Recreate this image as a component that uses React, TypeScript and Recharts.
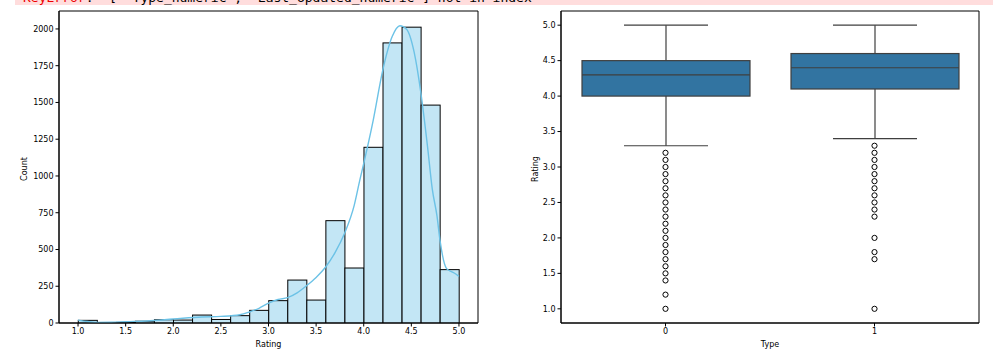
import React from 'react';
import {
  ComposedChart,
  Bar,
  Line,
  Scatter,
  XAxis,
  YAxis,
  ReferenceArea,
} from 'recharts';

// histogram: 20 bins of width 0.2 between 1.0 and 5.0
const binCenters = [1.1, 1.3, 1.5, 1.7, 1.9, 2.1, 2.3, 2.5, 2.7, 2.9, 3.1, 3.3, 3.5, 3.7, 3.9, 4.1, 4.3, 4.5, 4.7, 4.9];
const binCounts = [18, 2, 4, 12, 22, 20, 54, 24, 50, 86, 152, 292, 156, 696, 374, 1195, 1905, 2012, 1482, 363];

// kde curve
const kdeX = [1.0, 1.1, 1.2, 1.35, 1.5, 1.72, 2.0, 2.3, 2.5, 2.7, 2.8, 2.9, 3.0, 3.1, 3.2, 3.3, 3.4, 3.5, 3.6, 3.7, 3.8, 3.9, 3.96, 4.0, 4.1, 4.2, 4.3, 4.38, 4.45, 4.53, 4.6, 4.67, 4.72, 4.77, 4.8, 4.87, 4.95, 5.0];
const kdeY = [20, 10, 4, 5, 9, 14, 27, 41, 45, 56, 75, 100, 135, 160, 172, 205, 254, 310, 381, 480, 612, 800, 975, 1085, 1380, 1720, 1950, 2022, 1998, 1840, 1565, 1200, 910, 725, 567, 370, 340, 317];

const countTicks = [0, 250, 500, 750, 1000, 1250, 1500, 1750, 2000];
const ratingTicks = [1.0, 1.5, 2.0, 2.5, 3.0, 3.5, 4.0, 4.5, 5.0];

// box plot by Type
const types = [0, 1];
const q1 = [4.0, 4.1];
const medians = [4.3, 4.4];
const q3 = [4.5, 4.6];
const whiskLo = [3.3, 3.4];
const whiskHi = [5.0, 5.0];
const outliers0 = [3.2, 3.1, 3.0, 2.9, 2.8, 2.7, 2.6, 2.5, 2.4, 2.3, 2.2, 2.1, 2.0, 1.9, 1.8, 1.7, 1.6, 1.5, 1.4, 1.2, 1.0];
const outliers1 = [3.3, 3.2, 3.1, 3.0, 2.9, 2.8, 2.7, 2.6, 2.5, 2.4, 2.3, 2.0, 1.8, 1.7, 1.0];

const histData = binCenters.map((rating, i) => ({ rating, count: binCounts[i] }));
const kdeData = kdeX.map((rating, i) => ({ rating, kde: kdeY[i] }));
const boxData = types.map((type, i) => ({
  type,
  q1: q1[i],
  median: medians[i],
  q3: q3[i],
  lo: whiskLo[i],
  hi: whiskHi[i],
}));
const outlierData = [
  ...outliers0.map((rating) => ({ type: 0, rating })),
  ...outliers1.map((rating) => ({ type: 1, rating })),
];

const FONT = '"DejaVu Sans", sans-serif';
const tickStyle = { fontSize: 8, fill: '#000', fontFamily: FONT };
const BOX_LINE = '#3f3f3f';

// bin width in pixels: plot is 419px wide for 4.4 rating units
const BIN_PX = (419 * 0.2) / 4.4;

const yTitle = (text: string, cx: number) => (props: any) => {
  const vb = props.viewBox;
  const cy = vb.y + vb.height / 2 + 2;
  return (
    <text
      x={cx}
      y={cy}
      transform={`rotate(-90 ${cx} ${cy})`}
      textAnchor="middle"
      dominantBaseline="central"
      fontSize={8}
      fontFamily={FONT}
      fill="#000"
    >
      {text}
    </text>
  );
};

const xTitle = (text: string) => (props: any) => {
  const vb = props.viewBox;
  return (
    <text
      x={vb.x + vb.width / 2}
      y={vb.y + 21}
      textAnchor="middle"
      dominantBaseline="central"
      fontSize={8}
      fontFamily={FONT}
      fill="#000"
    >
      {text}
    </text>
  );
};

function BinShape(props: any) {
  const { x, y, width, height } = props;
  const cx = x + width / 2;
  return (
    <rect
      x={cx - BIN_PX / 2}
      y={y}
      width={BIN_PX}
      height={height}
      fill="#c3e6f5"
      stroke="#000"
      strokeWidth={1}
    />
  );
}

function BoxShape(props: any) {
  const { x, y, width, height, payload } = props;
  const top = Math.min(y, y + height);
  const h = Math.abs(height);
  const ppu = h / (payload.q3 - payload.q1);
  const yOf = (v: number) => top + (payload.q3 - v) * ppu;
  const cx = x + width / 2;
  const cap = width / 4;
  return (
    <g>
      <line x1={cx} x2={cx} y1={yOf(payload.hi)} y2={top} stroke={BOX_LINE} strokeWidth={1.2} />
      <line x1={cx} x2={cx} y1={top + h} y2={yOf(payload.lo)} stroke={BOX_LINE} strokeWidth={1.2} />
      <line x1={cx - cap} x2={cx + cap} y1={yOf(payload.hi)} y2={yOf(payload.hi)} stroke={BOX_LINE} strokeWidth={1.2} />
      <line x1={cx - cap} x2={cx + cap} y1={yOf(payload.lo)} y2={yOf(payload.lo)} stroke={BOX_LINE} strokeWidth={1.2} />
      <rect x={x} y={top} width={width} height={h} fill="#3274a1" stroke={BOX_LINE} strokeWidth={1.2} />
      <line x1={x} x2={x + width} y1={yOf(payload.median)} y2={yOf(payload.median)} stroke={BOX_LINE} strokeWidth={1.2} />
    </g>
  );
}

function HistChart() {
  return (
    <ComposedChart
      width={500}
      height={359}
      data={histData}
      margin={{ top: 11, right: 22, left: 0, bottom: 0 }}
    >
      <XAxis
        dataKey="rating"
        type="number"
        domain={[0.8, 5.2]}
        ticks={ratingTicks}
        tickFormatter={(v: number) => v.toFixed(1)}
        allowDataOverflow
        height={36}
        tick={tickStyle}
        tickSize={3.5}
        stroke="#000"
        label={{ content: xTitle('Rating') }}
      />
      <YAxis
        type="number"
        domain={[0, 2122]}
        ticks={countTicks}
        allowDataOverflow
        width={59}
        tick={tickStyle}
        tickSize={3.5}
        stroke="#000"
        label={{ content: yTitle('Count', 24.5) }}
      />
      <Bar
        dataKey="count"
        shape={BinShape}
        isAnimationActive={false}
      />
      <Line
        data={kdeData}
        dataKey="kde"
        type="monotone"
        stroke="#6cc2e6"
        strokeWidth={1.4}
        dot={false}
        activeDot={false}
        isAnimationActive={false}
      />
      <ReferenceArea x1={0.8} x2={5.2} y1={0} y2={2122} fill="none" stroke="#000" strokeWidth={1} />
    </ComposedChart>
  );
}

function BoxChart() {
  return (
    <ComposedChart
      width={500}
      height={359}
      data={boxData}
      margin={{ top: 11, right: 21, left: 0, bottom: 0 }}
    >
      <XAxis
        dataKey="type"
        type="number"
        domain={[-0.5, 1.5]}
        ticks={types}
        allowDataOverflow
        height={36}
        tick={tickStyle}
        tickSize={3.5}
        stroke="#000"
        label={{ content: xTitle('Type') }}
      />
      <YAxis
        dataKey="rating"
        type="number"
        domain={[0.8, 5.2]}
        ticks={ratingTicks}
        tickFormatter={(v: number) => v.toFixed(1)}
        allowDataOverflow
        width={61}
        tick={tickStyle}
        tickSize={3.5}
        stroke="#000"
        label={{ content: yTitle('Rating', 35) }}
      />
      <Bar
        dataKey={(d: any) => [d.q1, d.q3]}
        barSize={168}
        shape={BoxShape}
        isAnimationActive={false}
      />
      <Scatter
        data={outlierData}
        shape={(p: any) => (
          <circle cx={p.cx} cy={p.cy} r={2.6} fill="#fff" stroke="#000" strokeWidth={1} />
        )}
        isAnimationActive={false}
      />
      <ReferenceArea x1={-0.5} x2={1.5} y1={0.8} y2={5.2} fill="none" stroke="#000" strokeWidth={1} />
    </ComposedChart>
  );
}

export default function App() {
  return (
    <div style={{ position: 'fixed', left: 0, top: 0, width: 1000, height: 359, background: '#fff', overflow: 'hidden' }}>
      <div
        style={{
          position: 'absolute',
          left: 15,
          top: 0,
          width: 978,
          height: 5,
          background: '#fdd',
          overflow: 'hidden',
        }}
      >
        <div
          style={{
            position: 'absolute',
            left: 8,
            top: -10,
            whiteSpace: 'pre',
            fontFamily: '"DejaVu Sans Mono", monospace',
            fontSize: 13,
            color: '#000',
          }}
        >
          <span style={{ color: '#e00' }}>KeyError</span>: "[ 'Type_numeric', 'Last_Updated_numeric'] not in index"
        </div>
      </div>
      <div style={{ position: 'absolute', left: 0, top: 0 }}>
        <HistChart />
      </div>
      <div style={{ position: 'absolute', left: 500, top: 0 }}>
        <BoxChart />
      </div>
    </div>
  );
}
